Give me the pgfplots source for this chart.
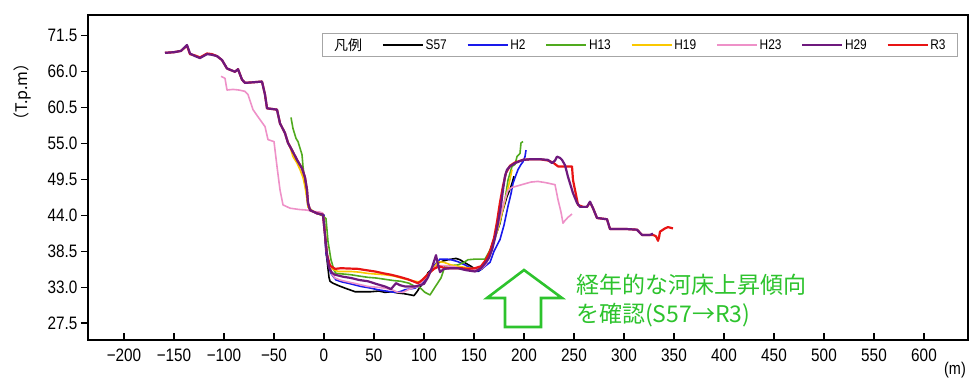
\documentclass[border=0pt]{standalone}
\usepackage{fontspec}
\usepackage{pgfplots}
\pgfplotsset{compat=1.18}
\setmainfont{Liberation Sans}
\newfontfamily\jp{Noto Sans CJK JP}
\newfontfamily\tf[FakeStretch=0.85]{Liberation Sans}
\definecolor{cS}{RGB}{0,0,0}
\definecolor{cHb}{RGB}{25,25,235}
\definecolor{cHc}{RGB}{80,170,30}
\definecolor{cHd}{RGB}{250,200,0}
\definecolor{cHe}{RGB}{238,145,200}
\definecolor{cHf}{RGB}{110,25,125}
\definecolor{cR}{RGB}{232,20,20}
\definecolor{ann}{RGB}{45,195,45}
\newcommand{\lgimg}[1]{\addlegendimage{legend image code/.code={\draw[draw=#1, line width=1.5pt] (0pt,0pt) -- (40pt,0pt);}}}
\begin{document}
\begin{tikzpicture}
\path (-88pt,-43pt) rectangle (890pt,340pt);
\begin{axis}[
  at={(0,0)}, anchor=south west, scale only axis,
  width=880pt, height=325pt,
  xmin=-236, xmax=644, ymin=24.9, ymax=74.7,
  axis line style={line width=1.6pt},
  tick pos=left,
  xtick={-200,-150,...,600},
  xticklabels={−200,−150,−100,−50,0,50,100,150,200,250,300,350,400,450,500,550,600},
  ytick={27.5,33,38.5,44,49.5,55,60.5,66,71.5},
  yticklabels={27.5,33.0,38.5,44.0,49.5,55.0,60.5,66.0,71.5},
  xtick align=inside, ytick align=outside,
  major tick length=7pt,
  tick style={black, line width=1.2pt},
  ticklabel style={font=\tf\fontsize{18}{18}\selectfont},
  xticklabel style={yshift=-5pt},
  legend columns=8,
  legend style={at={(0.9886,0.9446)}, anchor=north east, draw=gray!70, line width=0.8pt,
    font=\tf\fontsize{14}{14}\selectfont, inner ysep=3pt, inner xsep=10pt,
    /tikz/every even column/.append style={column sep=18pt}},
  every axis plot/.append style={line join=round},
]
% S57
\addplot[cS, line width=1.6pt, forget plot] coordinates {
(-3,44.4) (0,44.0) (1,41) (2,38.5) (3,37.2) (5,34.5) (6,33.9) (9,33.6) (15,33.2) (21,32.85) (31,32.3) (40,32.3) (47,32.3) (55,32.4) (61,32.2) (68,32.3) (74,32.1) (80,32.0) (87,31.8) (90,31.7) (93,32.3) (96,33.0) (99,33.6) (104,35.2) (109,35.9) (114,36.7) (119,37.0) (124,37.2) (132,37.4) (136,37.2) (139,36.9) (147,36.2) (154,35.4) (158,35.8) (161,36.4) (164,37.5) (166,38.5) (170,40.5) (173,41.5) (176,42.8) (178,44.3) (183,46.9) (186,48.0) (188,48.9) (190,50.0)};
% H2
\addplot[cHb, line width=1.6pt, forget plot] coordinates {
(-3,44.3) (0,44.0) (1,40.5) (2,38.2) (5,36.0) (7,35.1) (12,34.1) (18,33.8) (24,33.6) (37,33.1) (45,32.9) (54,32.6) (62,32.4) (71,32.2) (76,32.3) (81,32.6) (91,32.85) (96,33.3) (100,34.0) (105,35.2) (110,36.3) (116,37.3) (122,37.3) (127,37.2) (134,36.9) (141,36.4) (147,35.9) (152,35.4) (156,35.6) (161,36.2) (166,36.8) (170,38.5) (176,40.3) (180,42.5) (184,45.4) (187,47.3) (189,48.9) (192,50.2) (194,51.0) (197,51.8) (199,52.2) (201,53.0) (202,54.0)};
% H13
\addplot[cHc, line width=1.6pt, forget plot] coordinates {
(-33,59.0) (-31,57.3) (-28,55.8) (-26,55.3) (-22,53.3) (-21,51.5) (-19,48.9) (-17,46.9) (-16,45.3) (-11,44.6) (-4,44.1) (-1,43.9) (2,43.5) (4,40) (7,37.2) (10,35.6) (12,35.1) (20,35.0) (27,34.9) (35,34.7) (44,34.5) (52,34.4) (61,34.2) (70,34.0) (77,33.9) (85,33.6) (91,33.1) (94,33.2) (101,32.2) (106,31.8) (111,33.0) (117,34.4) (121,36.2) (127,36.3) (134,36.4) (140,36.8) (144,37.2) (152,37.3) (161,37.3) (164,38.1) (167,39.0) (172,41.0) (176,43.0) (181,46.4) (184,49.4) (188,51.5) (191,51.8) (193,53.0) (196,53.5) (197,55.1) (199,55.3)};
% H19
\addplot[cHd, line width=1.6pt, forget plot] coordinates {
(-37,55.6) (-34,54.5) (-31,53.0) (-27,52.0) (-24,51.0) (-21,49.8) (-19,48.4) (-17,46.5) (-16,45.3) (-12,44.7) (-5,44.3) (-1,44.1) (1,42) (3,38) (5,36.5) (8,35.8) (14,35.4) (20,35.4) (27,35.4) (35,35.3) (44,35.1) (52,35.0) (61,34.9) (70,34.7) (77,34.4) (85,34.1) (91,33.9) (96,33.8) (100,34.2) (105,35.0) (110,36.0) (114,36.9) (120,36.8) (127,36.4) (134,36.2) (142,36.0) (150,35.8) (157,36.0) (162,36.8) (166,38.3) (170,40.0) (175,42.5) (179,45.0) (183,47.5) (186,49.5) (188,51.0)};
% H23
\addplot[cHe, line width=1.6pt, forget plot] coordinates {
(-103,65.3) (-99,65.0) (-97,63.2) (-91,63.3) (-85,63.2) (-79,63.0) (-76,62.5) (-71,60.2) (-66,59.1) (-59,57.6) (-56,55.6) (-50,55.3) (-47,51.5) (-44,47.9) (-41,45.6) (-34,45.1) (-25,44.9) (-17,44.8) (-11,44.6) (-4,44.5) (-1,44.3) (1,41) (3,38) (6,36) (8,35.0) (11,34.4) (16,34.1) (21,33.9) (30,33.6) (44,33.1) (52,33.0) (61,32.85) (68,32.6) (74,32.2) (79,32.2) (84,32.6) (89,32.9) (94,33.1) (99,34.0) (104,35.0) (109,35.8) (114,36.3) (120,36.3) (127,36.2) (134,36.0) (142,35.8) (150,35.6) (157,35.8) (162,36.5) (166,38.0) (170,40.0) (175,43.0) (180,46.0) (184,47.8) (188,48.3) (191,48.4) (200,48.8) (207,49.1) (214,49.2) (222,49.0) (231,48.7) (234,46.4) (237,44.5) (239,42.8) (241,43.2) (244,43.7) (248,44.2)};
% R3
\addplot[cR, line width=2.2pt, forget plot] coordinates {
(-159,68.9) (-150,69.0) (-143,69.2) (-137,70.0) (-134,68.7) (-129,68.5) (-124,68.2) (-117,68.8) (-112,68.7) (-107,68.4) (-102,67.8) (-97,66.5) (-89,66.0) (-86,66.4) (-82,64.8) (-79,64.3) (-70,64.4) (-62,64.5) (-59,62.5) (-57,60.4) (-52,60.3) (-47,60.2) (-44,58.1) (-39,56.6) (-36,55.1) (-32,54.0) (-27,52.5) (-22,51.2) (-19,49.8) (-17,47.9) (-16,45.9) (-14,44.8) (-7,44.3) (-1,44.1) (1,41) (3,38) (6,36.3) (11,35.8) (17,35.9) (25,35.85) (34,35.8) (42,35.6) (51,35.4) (60,35.1) (67,34.9) (75,34.6) (84,34.2) (89,33.9) (94,33.6) (99,34.2) (104,35.0) (110,35.8) (115,36.2) (121,35.9) (129,35.9) (137,35.9) (144,35.8) (151,35.9) (157,36.2) (162,37.2) (166,38.5) (170,40.5) (173,43.0) (176,46.0) (179,48.5) (182,50.5) (186,51.6) (191,52.1) (199,52.5) (207,52.6) (216,52.6) (224,52.4) (229,52.1) (234,51.5) (241,51.5) (248,51.5) (249,49.4) (253,46.4) (254,45.6) (259,45.3) (263,45.3) (266,46.0) (269,45.1) (273,43.6) (283,43.4) (286,41.9) (303,41.9) (313,41.8) (318,41.0) (329,41.0) (332,40.8) (334,40.1) (335,40.6) (336,41.5) (341,42.0) (344,42.2) (349,42.0)};
% H29
\addplot[cHf, line width=2.2pt, forget plot] coordinates {
(-159,68.9) (-150,69.0) (-143,69.2) (-137,70.1) (-134,68.8) (-129,68.4) (-124,68.1) (-117,68.7) (-112,68.6) (-107,68.4) (-102,67.8) (-97,66.5) (-89,66.0) (-86,66.4) (-82,64.8) (-79,64.3) (-70,64.4) (-62,64.5) (-59,62.5) (-57,60.4) (-52,60.3) (-47,60.2) (-44,58.1) (-39,56.6) (-36,55.1) (-32,54.0) (-27,52.5) (-22,51.2) (-19,49.8) (-17,47.9) (-16,45.9) (-14,44.8) (-7,44.3) (-1,44.1) (1,41) (3,38) (5,36) (8,35.2) (11,34.9) (19,34.6) (27,34.4) (35,34.1) (44,33.9) (52,33.5) (61,33.1) (67,32.7) (72,33.6) (76,33.3) (81,33.1) (91,33.1) (96,33.3) (100,33.5) (104,34.5) (108,36.0) (112,37.9) (114,36.5) (116,35.3) (120,35.8) (127,35.9) (134,35.9) (142,35.6) (151,35.4) (157,35.9) (162,36.8) (165,37.5) (168,38.7) (171,40.5) (174,42.8) (177,45.5) (179,47.9) (181,50.0) (183,51.0) (186,51.5) (191,52.0) (199,52.5) (207,52.6) (216,52.6) (224,52.5) (228,52.0) (231,52.4) (233,53.0) (236,52.8) (238,52.5) (241,51.7) (244,49.9) (249,47.4) (253,45.9) (256,45.3) (263,45.3) (266,46.1) (269,45.1) (273,43.6) (278,43.5) (283,43.4) (286,41.9) (295,41.9) (303,41.9) (313,41.8) (318,41.0) (326,41.0) (329,41.2)};
\addlegendimage{empty legend}\addlegendentry{\jp 凡例}
\lgimg{cS}\addlegendentry{S57}
\lgimg{cHb}\addlegendentry{H2}
\lgimg{cHc}\addlegendentry{H13}
\lgimg{cHd}\addlegendentry{H19}
\lgimg{cHe}\addlegendentry{H23}
\lgimg{cHf}\addlegendentry{H29}
\lgimg{cR}\addlegendentry{R3}
\end{axis}
\node[rotate=90, font=\jp\fontsize{16}{16}\selectfont] at (-66pt,248pt) {（T.p.m）};
\node[font=\tf\fontsize{17}{17}\selectfont] at (867pt,-30pt) {(m)};
\draw[ann, line width=2.6pt, line join=miter]
  (436pt,70pt) -- (474pt,42pt) -- (453pt,42pt) -- (453pt,13pt) -- (417pt,13pt) -- (417pt,42pt) -- (399pt,42pt) -- cycle;
\node[anchor=west, text=ann, font=\jp\fontsize{23}{23}\selectfont, inner sep=0pt] at (488pt,55pt) {経年的な河床上昇傾向};
\node[anchor=west, text=ann, font=\jp\fontsize{23}{23}\selectfont, inner sep=0pt] at (488pt,25pt) {を確認(S57→R3)};
\end{tikzpicture}
\end{document}
